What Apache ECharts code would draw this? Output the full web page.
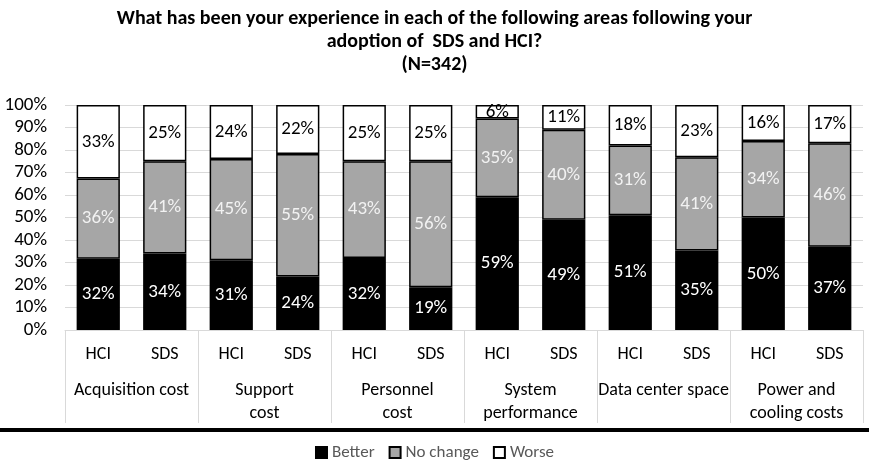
<!DOCTYPE html>
<html><head><meta charset="utf-8">
<script src="https://cdn.jsdelivr.net/npm/echarts@6/dist/echarts.min.js"></script>
<style>html,body{margin:0;padding:0;background:#fff}#c{width:869px;height:463px}</style>
</head><body><div id="c"></div>
<script>
var techLabels = ['HCI','SDS','HCI','SDS','HCI','SDS','HCI','SDS','HCI','SDS','HCI','SDS'];
var groupLabels = ['Acquisition cost','Support\ncost','Personnel\ncost','System\nperformance','Data center space','Power and\ncooling costs'];
var better   = [32,34,31,24,32,19,59,49,51,35,50,37];
var noChange = [36,41,45,55,43,56,35,40,31,41,34,46];
var worse    = [33,25,24,22,25,25,6,11,18,23,16,17];
var yTicks = [0,10,20,30,40,50,60,70,80,90,100];

var FONT = 'Carlito, "Liberation Sans Narrow", "Open Sans", sans-serif';
var totals = better.map(function(v,i){return v+noChange[i]+worse[i];});
function share(arr){return arr.map(function(v,i){return {value: v/totals[i]*100, raw: v};});}

function mkSeries(name, arr, fill, txt){
  return {
    name: name, type: 'bar', stack: 'all', barCategoryGap: '35%',
    data: share(arr),
    itemStyle: {color: fill, borderColor: '#000', borderWidth: 1.5},
    label: {show: true, position: 'inside', color: txt, fontFamily: FONT, fontSize: 19,
      formatter: function(p){return p.data.raw + '%';}},
    emphasis: {disabled: true}
  };
}

var chart = echarts.init(document.getElementById('c'));
chart.setOption({
  animation: false,
  title: {text: 'What has been your experience in each of the following areas following your\nadoption of  SDS and HCI?\n(N=342)',
    left: 'center', top: 2,
    textStyle: {fontFamily: FONT, fontSize: 20, fontWeight: 'bold', color: '#000', lineHeight: 23}},
  legend: {bottom: 2, left: 'center', padding: 0, itemWidth: 11, itemHeight: 11, itemGap: 14,
    textStyle: {fontFamily: FONT, fontSize: 17, color: '#595959'},
    data: [{name:'Better', icon:'rect'},{name:'No change', icon:'rect'},{name:'Worse', icon:'rect'}]},
  grid: {left: 65, right: 6, top: 105, bottom: 133, containLabel: false},
  xAxis: [
    {type: 'category', data: techLabels, position: 'bottom',
      axisLine: {show: true, lineStyle: {color: '#d9d9d9', width: 1}},
      axisTick: {show: false},
      axisLabel: {margin: 15, fontFamily: FONT, fontSize: 18, color: '#000', interval: 0}},
    {type: 'category', data: groupLabels, position: 'bottom',
      axisLine: {show: false},
      axisTick: {show: true, length: 93, lineStyle: {color: '#d9d9d9', width: 1}},
      axisLabel: {margin: 49, fontFamily: FONT, fontSize: 18, color: '#000', interval: 0,
        lineHeight: 23, verticalAlign: 'top'}}
  ],
  yAxis: {type: 'value', min: 0, max: 100, interval: 10,
    axisLine: {show: false}, axisTick: {show: false},
    splitLine: {show: true, lineStyle: {color: '#d9d9d9', width: 1}},
    axisLabel: {fontFamily: FONT, fontSize: 19, color: '#000', margin: 18,
      formatter: function(v){return yTicks.indexOf(v) >= 0 ? v + '%' : '';}}},
  series: [
    mkSeries('Better', better, '#000000', '#ffffff'),
    mkSeries('No change', noChange, '#a6a6a6', '#f2f2f2'),
    mkSeries('Worse', worse, '#ffffff', '#000000')
  ],
  graphic: [{type: 'rect', shape: {x: 0, y: 428, width: 869, height: 4}, style: {fill: '#000'}, silent: true}]
});
</script></body></html>
